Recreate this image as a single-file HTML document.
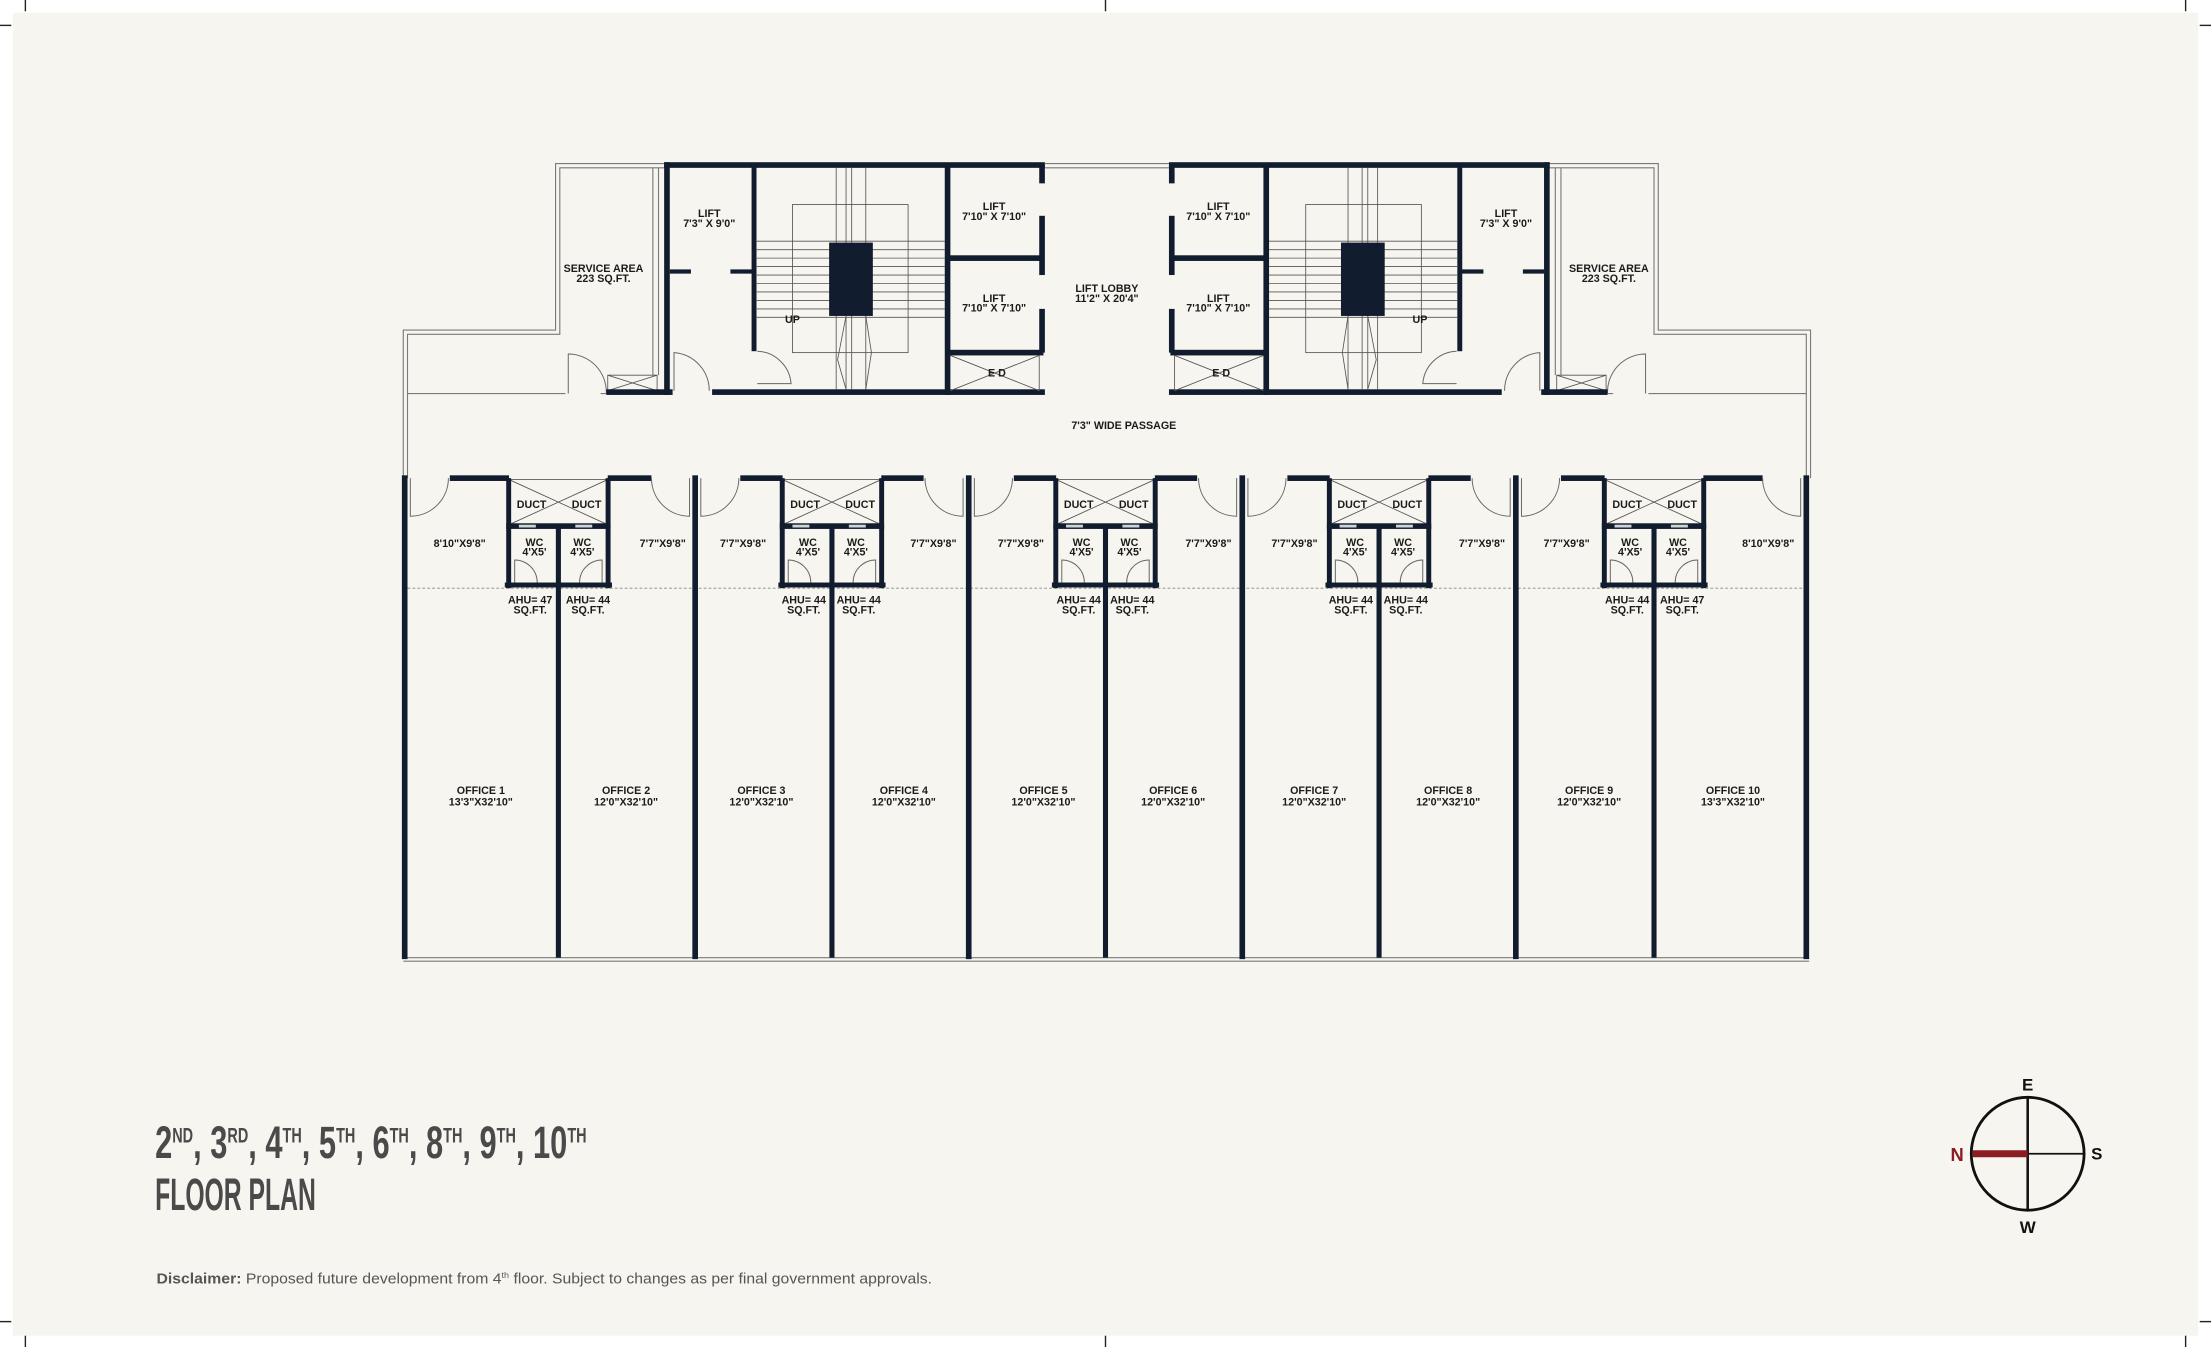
<!DOCTYPE html>
<html><head><meta charset="utf-8"><style>
html,body{margin:0;padding:0;background:#fff;}
svg{display:block;}
.t{font-family:"Liberation Sans Narrow","Liberation Sans",sans-serif;font-weight:bold;font-size:7.6px;fill:#1b1b1b;text-anchor:middle;}
.w{fill:#111c2e;}
.th{fill:none;stroke:#7a7a7a;stroke-width:0.8;}
.tn{fill:none;stroke:#555;stroke-width:0.6;}
.dr{fill:none;stroke:#666;stroke-width:0.7;}
</style></head><body>
<svg width="2211" height="1347" viewBox="0 0 1568 955" preserveAspectRatio="none" xmlns="http://www.w3.org/2000/svg">
<rect x="0" y="0" width="1568" height="955" fill="#ffffff"/>
<rect x="9" y="9" width="1550" height="938" fill="#f7f5ef"/>
<!-- crop marks -->
<g stroke="#222" stroke-width="1">
<line x1="18" y1="0" x2="18" y2="8"/><line x1="0" y1="18" x2="8" y2="18"/>
<line x1="784" y1="0" x2="784" y2="8"/><line x1="1550" y1="0" x2="1550" y2="8"/><line x1="1560" y1="18" x2="1568" y2="18"/>
<line x1="18" y1="947" x2="18" y2="955"/><line x1="0" y1="937" x2="8" y2="937"/>
<line x1="784" y1="947" x2="784" y2="955"/><line x1="1550" y1="947" x2="1550" y2="955"/><line x1="1560" y1="937" x2="1568" y2="937"/>
</g>

<defs>
<g id="core">
 <path class="th" d="M286,339 L286,234 L394,234 L394,116 L472,116"/>
 <path class="th" d="M289,339 L289,237 L397,237 L397,119 L472,119"/>
 <path class="th" d="M289,279 L401,279 M426,279 L431,279"/>
 <path class="th" d="M463,119 L463,266 M467,119 L467,266"/>
 <path class="tn" d="M431,266 L466,266 L466,277 L431,277 Z M431,266 L466,277 M431,277 L466,266"/>
 <path class="dr" d="M403,279 L403,251 A27,27 0 0 1 430,279"/>
 <!-- thick core walls -->
 <rect class="w" x="471" y="115" width="270" height="4"/>
 <rect class="w" x="471" y="115" width="4" height="165"/>
 <rect class="w" x="430" y="276" width="47" height="4"/>
 <rect class="w" x="505" y="276" width="236" height="4"/>
 <rect class="w" x="475" y="191" width="15" height="3"/>
 <rect class="w" x="518" y="191" width="17" height="3"/>
 <rect class="w" x="533" y="117" width="3.5" height="132"/>
 <path class="dr" d="M478,277 L478,250 A27,27 0 0 1 503,277"/>
 <path class="dr" d="M537,249 A25,25 0 0 1 561,272 L537,272"/>
 <!-- stairs -->
 <rect class="tn" x="562" y="145" width="82" height="105"/>
 <g class="tn">
  <line x1="536" y1="171" x2="670" y2="171"/><line x1="536" y1="177" x2="670" y2="177"/>
  <line x1="536" y1="183" x2="670" y2="183"/><line x1="536" y1="189" x2="670" y2="189"/>
  <line x1="536" y1="195" x2="670" y2="195"/><line x1="536" y1="201" x2="670" y2="201"/>
  <line x1="536" y1="207" x2="670" y2="207"/><line x1="536" y1="213" x2="670" y2="213"/>
  <line x1="536" y1="219" x2="670" y2="219"/><line x1="536" y1="225" x2="670" y2="225"/>
  <line x1="593" y1="119" x2="593" y2="276"/><line x1="600" y1="119" x2="600" y2="276"/>
  <line x1="604" y1="119" x2="604" y2="276"/><line x1="614" y1="119" x2="614" y2="276"/>
  <path d="M600,224 L594,255 L600,276 M614,224 L618,250 L614,276"/>
 </g>
 <rect class="w" x="588" y="172" width="31" height="52"/>
 <!-- lifts -->
 <rect class="w" x="670" y="117" width="4" height="163"/>
 <rect class="w" x="672" y="181" width="68" height="4"/>
 <rect class="w" x="672" y="248" width="68" height="4"/>
 <rect class="w" x="737" y="117" width="4" height="13"/>
 <rect class="w" x="737" y="153" width="4" height="42"/>
 <rect class="w" x="737" y="219" width="4" height="31"/>
 <path class="tn" d="M674,252 L737,277 M674,277 L737,252 M737,252 L737,277"/>
</g>
<g id="pair">
 <rect class="tn" x="-35" y="340" width="70" height="32"/>
 <path class="tn" d="M-35,340 L35,372 M-35,372 L35,340"/>
 <rect class="w" x="-37" y="339" width="3.5" height="78"/>
 <rect class="w" x="33.5" y="339" width="3.5" height="78"/>
 <rect class="w" x="-1.8" y="372" width="3.6" height="307"/>
 <rect class="w" x="-37" y="371" width="74" height="4"/>
 <rect x="-28" y="372" width="12" height="2" fill="#cfd2d6"/>
 <rect x="12" y="372" width="12" height="2" fill="#cfd2d6"/>
 <rect class="w" x="-38" y="413" width="76" height="3.5"/>
 <path class="dr" d="M-31,413 L-31,397 A16,16 0 0 1 -15,413"/>
 <path class="dr" d="M31,413 L31,397 A16,16 0 0 0 15,413"/>
 <text class="t" x="-19" y="360">DUCT</text><text class="t" x="20" y="360">DUCT</text>
 <text class="t" x="-17" y="387">WC</text><text class="t" x="-17" y="394">4'X5'</text>
 <text class="t" x="17" y="387">WC</text><text class="t" x="17" y="394">4'X5'</text>
</g>
</defs>

<use href="#core"/>
<use href="#core" transform="translate(1570,0) scale(-1,1)"/>
<path class="th" d="M741,116 L829,116 M741,119 L829,119"/>
<path class="th" d="M286,679 L1283,679 M286,681.5 L1283,681.5"/>
<line x1="289" y1="417" x2="1280" y2="417" stroke="#888" stroke-width="0.6" stroke-dasharray="2,1.5"/>

<!-- office outer/divider walls -->
<g class="w">
<rect x="285" y="337" width="4" height="343"/>
<rect x="491" y="337" width="4" height="343"/>
<rect x="685" y="337" width="4" height="343"/>
<rect x="879" y="337" width="4" height="343"/>
<rect x="1073" y="337" width="4" height="343"/>
<rect x="1279" y="337" width="4" height="343"/>
<!-- top wall segments -->
<rect x="319" y="337" width="42" height="4"/><rect x="431" y="337" width="31" height="4"/>
<rect x="525" y="337" width="30" height="4"/><rect x="625" y="337" width="30" height="4"/>
<rect x="719" y="337" width="30" height="4"/><rect x="819" y="337" width="30" height="4"/>
<rect x="913" y="337" width="30" height="4"/><rect x="1013" y="337" width="30" height="4"/>
<rect x="1107" y="337" width="31" height="4"/><rect x="1208" y="337" width="42" height="4"/>
</g>
<g class="dr">
<path d="M291,339 L291,366 A27,27 0 0 0 318,339"/><path d="M489,339 L489,366 A27,27 0 0 1 462,339"/>
<path d="M497,339 L497,366 A27,27 0 0 0 524,339"/><path d="M683,339 L683,366 A27,27 0 0 1 656,339"/>
<path d="M691,339 L691,366 A27,27 0 0 0 718,339"/><path d="M877,339 L877,366 A27,27 0 0 1 850,339"/>
<path d="M885,339 L885,366 A27,27 0 0 0 912,339"/><path d="M1071,339 L1071,366 A27,27 0 0 1 1044,339"/>
<path d="M1079,339 L1079,366 A27,27 0 0 0 1106,339"/><path d="M1277,339 L1277,366 A27,27 0 0 1 1250,339"/>
</g>
<use href="#pair" transform="translate(396,0)"/>
<use href="#pair" transform="translate(590,0)"/>
<use href="#pair" transform="translate(784,0)"/>
<use href="#pair" transform="translate(978,0)"/>
<use href="#pair" transform="translate(1173,0)"/>

<!-- labels -->
<g class="t">
<text x="503" y="154">LIFT</text><text x="503" y="161">7'3" X 9'0"</text>
<text x="705" y="149">LIFT</text><text x="705" y="156">7'10" X 7'10"</text>
<text x="705" y="214">LIFT</text><text x="705" y="221">7'10" X 7'10"</text>
<text x="707" y="267">E D</text>
<text x="428" y="193">SERVICE AREA</text><text x="428" y="200">223 SQ.FT.</text>
<text x="562" y="229">UP</text>
<text x="1068" y="154">LIFT</text><text x="1068" y="161">7'3" X 9'0"</text>
<text x="864" y="149">LIFT</text><text x="864" y="156">7'10" X 7'10"</text>
<text x="864" y="214">LIFT</text><text x="864" y="221">7'10" X 7'10"</text>
<text x="866" y="267">E D</text>
<text x="1141" y="193">SERVICE AREA</text><text x="1141" y="200">223 SQ.FT.</text>
<text x="1007" y="229">UP</text>
<text x="785" y="207">LIFT LOBBY</text><text x="785" y="214">11'2" X 20'4"</text>
<text x="797" y="304">7'3" WIDE PASSAGE</text>

<text x="326" y="388">8'10"X9'8"</text><text x="470" y="388">7'7"X9'8"</text>
<text x="527" y="388">7'7"X9'8"</text><text x="662" y="388">7'7"X9'8"</text>
<text x="724" y="388">7'7"X9'8"</text><text x="857" y="388">7'7"X9'8"</text>
<text x="918" y="388">7'7"X9'8"</text><text x="1051" y="388">7'7"X9'8"</text>
<text x="1111" y="388">7'7"X9'8"</text><text x="1254" y="388">8'10"X9'8"</text>

<text x="376" y="428">AHU= 47</text><text x="376" y="435">SQ.FT.</text>
<text x="417" y="428">AHU= 44</text><text x="417" y="435">SQ.FT.</text>
<text x="570" y="428">AHU= 44</text><text x="570" y="435">SQ.FT.</text>
<text x="609" y="428">AHU= 44</text><text x="609" y="435">SQ.FT.</text>
<text x="765" y="428">AHU= 44</text><text x="765" y="435">SQ.FT.</text>
<text x="803" y="428">AHU= 44</text><text x="803" y="435">SQ.FT.</text>
<text x="958" y="428">AHU= 44</text><text x="958" y="435">SQ.FT.</text>
<text x="997" y="428">AHU= 44</text><text x="997" y="435">SQ.FT.</text>
<text x="1154" y="428">AHU= 44</text><text x="1154" y="435">SQ.FT.</text>
<text x="1193" y="428">AHU= 47</text><text x="1193" y="435">SQ.FT.</text>

<text x="341" y="563">OFFICE 1</text><text x="341" y="571">13'3"X32'10"</text>
<text x="444" y="563">OFFICE 2</text><text x="444" y="571">12'0"X32'10"</text>
<text x="540" y="563">OFFICE 3</text><text x="540" y="571">12'0"X32'10"</text>
<text x="641" y="563">OFFICE 4</text><text x="641" y="571">12'0"X32'10"</text>
<text x="740" y="563">OFFICE 5</text><text x="740" y="571">12'0"X32'10"</text>
<text x="832" y="563">OFFICE 6</text><text x="832" y="571">12'0"X32'10"</text>
<text x="932" y="563">OFFICE 7</text><text x="932" y="571">12'0"X32'10"</text>
<text x="1027" y="563">OFFICE 8</text><text x="1027" y="571">12'0"X32'10"</text>
<text x="1127" y="563">OFFICE 9</text><text x="1127" y="571">12'0"X32'10"</text>
<text x="1229" y="563">OFFICE 10</text><text x="1229" y="571">13'3"X32'10"</text>
</g>

<!-- title -->
<text x="110" y="821" textLength="306" lengthAdjust="spacingAndGlyphs" style="font-family:'Liberation Sans Narrow','Liberation Sans',sans-serif;font-weight:bold;font-size:32px;fill:#4a4a4a">2<tspan font-size="15" dy="-11">ND</tspan><tspan dy="11">, 3</tspan><tspan font-size="15" dy="-11">RD</tspan><tspan dy="11">, 4</tspan><tspan font-size="15" dy="-11">TH</tspan><tspan dy="11">, 5</tspan><tspan font-size="15" dy="-11">TH</tspan><tspan dy="11">, 6</tspan><tspan font-size="15" dy="-11">TH</tspan><tspan dy="11">, 8</tspan><tspan font-size="15" dy="-11">TH</tspan><tspan dy="11">, 9</tspan><tspan font-size="15" dy="-11">TH</tspan><tspan dy="11">, 10</tspan><tspan font-size="15" dy="-11">TH</tspan></text>
<text x="110" y="858" textLength="114" lengthAdjust="spacingAndGlyphs" style="font-family:'Liberation Sans Narrow','Liberation Sans',sans-serif;font-weight:bold;font-size:32px;fill:#4a4a4a">FLOOR PLAN</text>
<text x="111" y="910" textLength="550" lengthAdjust="spacingAndGlyphs" style="font-family:'Liberation Sans',sans-serif;font-size:10.5px;fill:#555"><tspan font-weight="bold">Disclaimer:</tspan> Proposed future development from 4<tspan font-size="6" dy="-4">th</tspan><tspan dy="4"> floor. Subject to changes as per final government approvals.</tspan></text>

<!-- compass -->
<circle cx="1438" cy="818" r="40" fill="none" stroke="#111" stroke-width="2"/>
<line x1="1438" y1="778" x2="1438" y2="858" stroke="#111" stroke-width="1.8"/>
<line x1="1438" y1="818" x2="1478" y2="818" stroke="#111" stroke-width="1.2"/>
<line x1="1399" y1="818" x2="1438" y2="818" stroke="#8b1c22" stroke-width="5"/>
<g style="font-family:'Liberation Sans',sans-serif;font-weight:bold;font-size:12px;text-anchor:middle">
<text x="1438" y="773" fill="#111">E</text>
<text x="1438" y="874" fill="#111">W</text>
<text x="1487" y="822" fill="#111">S</text>
<text x="1388" y="823" fill="#8b1c22" font-size="13">N</text>
</g>
</svg>
</body></html>
